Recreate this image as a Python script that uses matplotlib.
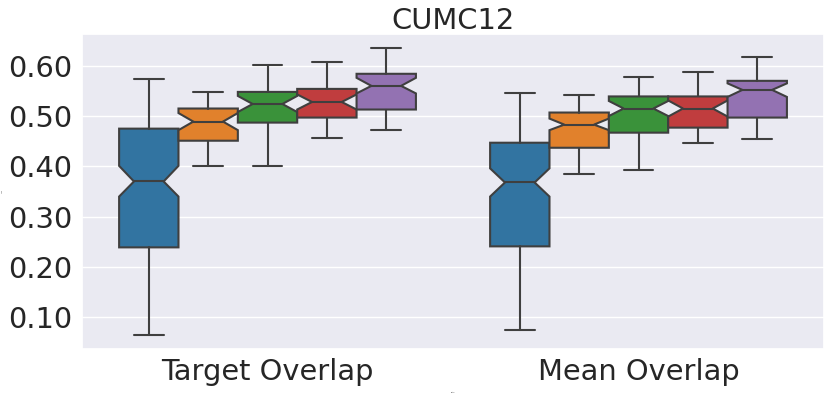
import matplotlib
matplotlib.use("Agg")
import matplotlib.pyplot as plt
import seaborn as sns
from matplotlib.ticker import FormatStrFormatter, MultipleLocator

sns.set_theme(style="darkgrid")

categories = ["Target Overlap", "Mean Overlap"]
colors = ["#3274a1", "#e1812c", "#3a923a", "#c03d3e", "#9372b2"]

# box stats per category, one entry per hue
whislo = [[0.064, 0.400, 0.400, 0.457, 0.473],
          [0.074, 0.384, 0.393, 0.447, 0.455]]
q1 = [[0.239, 0.451, 0.487, 0.497, 0.513],
      [0.241, 0.437, 0.467, 0.477, 0.497]]
med = [[0.370, 0.489, 0.524, 0.528, 0.560],
       [0.368, 0.483, 0.515, 0.515, 0.552]]
q3 = [[0.475, 0.515, 0.548, 0.554, 0.584],
      [0.447, 0.507, 0.539, 0.539, 0.570]]
whishi = [[0.574, 0.548, 0.602, 0.608, 0.636],
          [0.545, 0.542, 0.578, 0.588, 0.618]]
cilo = [[0.340, 0.472, 0.508, 0.513, 0.545],
        [0.340, 0.472, 0.500, 0.499, 0.538]]
cihi = [[0.401, 0.506, 0.540, 0.543, 0.576],
        [0.396, 0.495, 0.530, 0.531, 0.565]]

fig, ax = plt.subplots(figsize=(8.31, 3.96), dpi=100)

n_hue = len(colors)
w = 0.8 / n_hue
for i in range(len(categories)):
    for j in range(n_hue):
        st = {"whislo": whislo[i][j], "q1": q1[i][j], "med": med[i][j],
              "q3": q3[i][j], "whishi": whishi[i][j],
              "cilo": cilo[i][j], "cihi": cihi[i][j], "fliers": []}
        pos = i - 0.4 + w / 2 + j * w
        ax.bxp([st], positions=[pos], widths=w, capwidths=w / 2,
               shownotches=True, patch_artist=True, showfliers=False,
               boxprops=dict(facecolor=colors[j], edgecolor="#3f3f3f", linewidth=1.5),
               medianprops=dict(color="#3f3f3f", linewidth=1.5),
               whiskerprops=dict(color="#3f3f3f", linewidth=1.5),
               capprops=dict(color="#3f3f3f", linewidth=1.5),
               manage_ticks=False)

ax.set_xlim(-0.5, 1.5)
ax.set_ylim(0.037, 0.663)
ax.set_xticks(range(len(categories)))
ax.set_xticklabels(categories)
ax.yaxis.set_major_locator(MultipleLocator(0.1))
ax.yaxis.set_major_formatter(FormatStrFormatter("%.2f"))
ax.tick_params(labelsize=20.8)
ax.tick_params(axis="y", pad=1.0)
ax.tick_params(axis="x", pad=0.5)
ax.set_title("CUMC12", fontsize=20.8, pad=4)
ax.set_xlabel("metric", fontsize=1, labelpad=4)
ax.set_ylabel("value", fontsize=1)
ax.xaxis.grid(False)

fig.subplots_adjust(left=0.0987, right=0.9916, top=0.914, bottom=0.1187)
plt.savefig("out.png", dpi=100)
